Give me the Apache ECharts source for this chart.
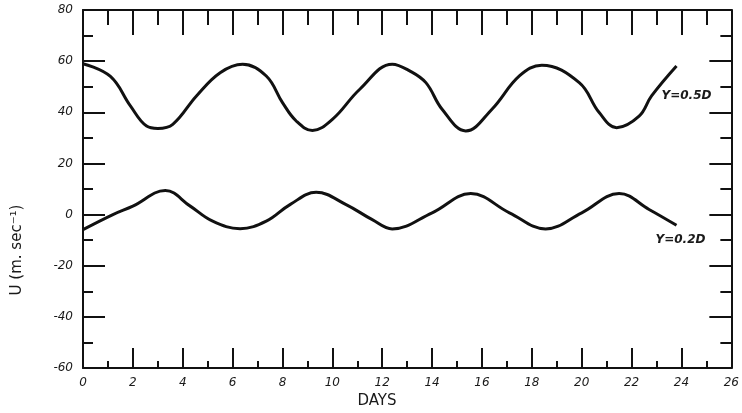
<!DOCTYPE html>
<html>
<head>
<meta charset="utf-8">
<script src="https://cdn.jsdelivr.net/npm/echarts@6/dist/echarts.min.js"></script>
<style>
  html, body { margin: 0; padding: 0; background: #fff; }
  #main { width: 742px; height: 413px; }
</style>
</head>
<body>
<div id="main"></div>
<script>
// days vs U (m/s)
var upperDays = [0, 1.1, 1.9, 2.55, 3.0, 3.6, 4.55, 5.5, 6.4, 7.35, 8.0, 8.55, 9.2, 10.0, 11.1, 12.4, 13.1, 13.75, 14.4, 15.35, 16.4, 17.5, 18.4, 19.9, 20.7, 21.4, 22.3, 22.8, 23.8];
var upperU    = [59, 54, 42.5, 34.6, 33.7, 35.3, 46.4, 55.5, 58.8, 54.2, 43.8, 36.6, 32.9, 37.2, 49, 58.8, 56.2, 51.6, 41.2, 32.7, 41.2, 54.2, 58.4, 51.6, 39.9, 34, 38.5, 46.4, 58.1];

var lowerDays = [0, 1.2, 2.0, 3.3, 4.3, 5.2, 6.3, 7.35, 8.3, 9.35, 10.55, 11.6, 12.4, 14.0, 15.55, 17.1, 18.55, 20.0, 21.5, 22.7, 23.8];
var lowerU    = [-5.9, 0, 3.3, 9.4, 3.3, -2.6, -5.5, -2.6, 3.9, 8.7, 3.9, -2, -5.6, 0.7, 8.2, 0.7, -5.6, 0.7, 8.2, 2, -4.2];

var dayTicks = ['0', '2', '4', '6', '8', '10', '12', '14', '16', '18', '20', '22', '24', '26'];
var uTicks = ['-60', '-40', '-20', '0', '20', '40', '60', '80'];

var seriesNames = ['Y=0.5D', 'Y=0.2D'];
var labelAt = [[24.2, 46.3], [23.96, -9.8]];

function pairs(xs, ys) {
    return xs.map(function (x, i) { return [x, ys[i]]; });
}

var handFont = { fontFamily: 'DejaVu Sans', fontStyle: 'italic', color: '#1a1a1a' };
var ink = '#111';

function frameAxis(extra) {
    return Object.assign({
        type: 'value',
        axisLine: { onZero: false, lineStyle: { color: ink, width: 2 } },
        splitLine: { show: false }
    }, extra);
}

var myChart = echarts.init(document.getElementById('main'));

var option = {
    backgroundColor: '#fff',
    animation: false,
    grid: { left: 83, right: 9, top: 10, bottom: 45 },
    xAxis: [frameAxis({
        min: 0, max: 26, interval: 2, position: 'bottom',
        axisTick: { inside: true, length: 20, lineStyle: { color: ink, width: 2 } },
        minorTick: { show: true, splitNumber: 2, length: 7, lineStyle: { color: ink, width: 2 } },
        axisLabel: Object.assign({ fontSize: 12, margin: 9, formatter: function (v) { return dayTicks[Math.round(v / 2)]; } }, handFont)
    }), frameAxis({
        min: 0, max: 26, interval: 2, position: 'top',
        axisTick: { inside: true, length: 25, lineStyle: { color: ink, width: 2 } },
        minorTick: { show: true, splitNumber: 2, length: 15, lineStyle: { color: ink, width: 2 } },
        axisLabel: { show: false }
    })],
    yAxis: [frameAxis({
        min: -60, max: 80, interval: 20, position: 'left',
        axisTick: { inside: true, length: 22, lineStyle: { color: ink, width: 2 } },
        minorTick: { show: true, splitNumber: 2, length: 10, lineStyle: { color: ink, width: 2 } },
        axisLabel: Object.assign({ fontSize: 12, margin: 10, formatter: function (v) { return uTicks[Math.round((v + 60) / 20)]; } }, handFont)
    }), frameAxis({
        min: -60, max: 80, interval: 20, position: 'right',
        axisTick: { inside: true, length: 22, lineStyle: { color: ink, width: 2 } },
        minorTick: { show: true, splitNumber: 2, length: 11, lineStyle: { color: ink, width: 2 } },
        axisLabel: { show: false }
    })],
    series: [upperDays, lowerDays].map(function (xs, k) {
        var ys = k === 0 ? upperU : lowerU;
        return {
            name: seriesNames[k],
            type: 'line',
            xAxisIndex: 0,
            yAxisIndex: 0,
            data: pairs(xs, ys),
            smooth: 0.4,
            showSymbol: false,
            lineStyle: { color: ink, width: 3 },
            markPoint: {
                symbol: 'circle',
                symbolSize: 0,
                data: [{ coord: labelAt[k] }],
                label: Object.assign({ show: true, position: 'inside', fontSize: 12, fontWeight: 'bold', formatter: seriesNames[k] }, handFont)
            }
        };
    }),
    graphic: [{
        type: 'text', x: 377, y: 401,
        style: { text: 'DAYS', fontSize: 15, fontFamily: 'DejaVu Sans', fill: '#1a1a1a', align: 'center', verticalAlign: 'middle' }
    }, {
        type: 'text', x: 17, y: 250, rotation: Math.PI / 2,
        style: { text: 'U (m. sec\u207B\u00B9)', fontSize: 15, fontFamily: 'DejaVu Sans', fill: '#1a1a1a', align: 'center', verticalAlign: 'middle' }
    }]
};

myChart.setOption(option);
</script>
</body>
</html>
